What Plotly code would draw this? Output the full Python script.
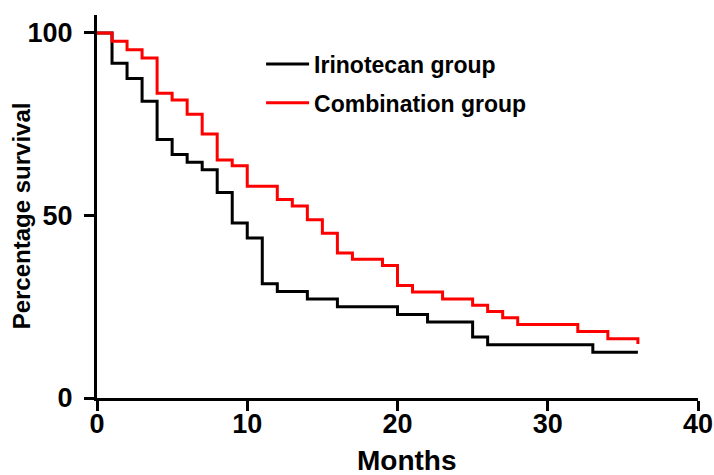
import plotly.graph_objects as go

# Irinotecan group (black) Kaplan-Meier steps
iri_months = [0, 1, 2, 3, 4, 5, 6, 7, 8, 9, 10, 11, 12, 14, 16, 20, 22, 25, 26, 33, 36]
iri_surv = [100, 91.7, 87.5, 81.3, 70.8, 66.7, 64.6, 62.5, 56.3, 47.9, 43.8, 31.3, 29.2, 27.1, 25.0, 22.9, 20.8, 16.7, 14.6, 12.5, 12.5]

# Combination group (red) Kaplan-Meier steps
comb_months = [0, 1, 2, 3, 4, 5, 6, 7, 8, 9, 10, 12, 13, 14, 15, 16, 17, 19, 20, 21, 23, 25, 26, 27, 28, 32, 34, 36]
comb_surv = [100, 97.7, 95.4, 93.1, 83.5, 81.6, 77.7, 72.3, 65.2, 63.6, 58.0, 54.4, 52.6, 48.8, 45.1, 39.7, 38.0, 36.3, 30.8, 29.0, 27.1, 25.4, 23.7, 22.0, 20.1, 18.2, 16.2, 14.8]

x_ticks = [0, 10, 20, 30, 40]
y_ticks = [0, 50, 100]

FONT = "Liberation Sans, Arial, sans-serif"

fig = go.Figure()
fig.add_trace(go.Scatter(
    x=iri_months, y=iri_surv, mode="lines", line_shape="hv",
    line=dict(color="black", width=3), name="<b>Irinotecan group</b>",
    legendgroup="a"))
fig.add_trace(go.Scatter(
    x=comb_months, y=comb_surv, mode="lines", line_shape="hv",
    line=dict(color="#ff0000", width=3), name="<b>Combination group</b>",
    legendgroup="b"))

axis_common = dict(
    showgrid=False, zeroline=False, showline=True, linecolor="black", linewidth=3,
    ticks="outside", ticklen=10, tickwidth=3, tickcolor="black",
    tickfont=dict(family=FONT, size=27, color="black", weight="bold"),
)

fig.update_xaxes(range=[0, 40], tickvals=x_ticks, automargin=False,
                 ticklabelstandoff=-10, **axis_common)
fig.update_yaxes(range=[0, 104.9], tickvals=y_ticks, automargin=False,
                 ticklabelstandoff=6, **axis_common)

fig.update_layout(
    width=714, height=475,
    margin=dict(l=97, r=16, t=15, b=77),
    plot_bgcolor="white", paper_bgcolor="white",
    showlegend=True,
    legend=dict(x=0.273, y=0.9282, xanchor="left", yanchor="top", itemwidth=43,
                font=dict(family=FONT, size=23, color="black"),
                bgcolor="rgba(0,0,0,0)", tracegroupgap=6),
    annotations=[
        dict(text="<b>Months</b>", xref="paper", yref="paper", x=0.516, y=-0.162,
             xanchor="center", yanchor="middle", showarrow=False,
             font=dict(family=FONT, size=28, color="black")),
        dict(text="<b>Percentage survival</b>", xref="paper", yref="paper", x=-0.126, y=0.475,
             xanchor="center", yanchor="middle", showarrow=False, textangle=-90,
             font=dict(family=FONT, size=24, color="black")),
    ],
)

fig.write_html("out.html", config={"displayModeBar": False},
               post_script="document.body.style.margin='0';document.body.style.overflow='hidden';")
